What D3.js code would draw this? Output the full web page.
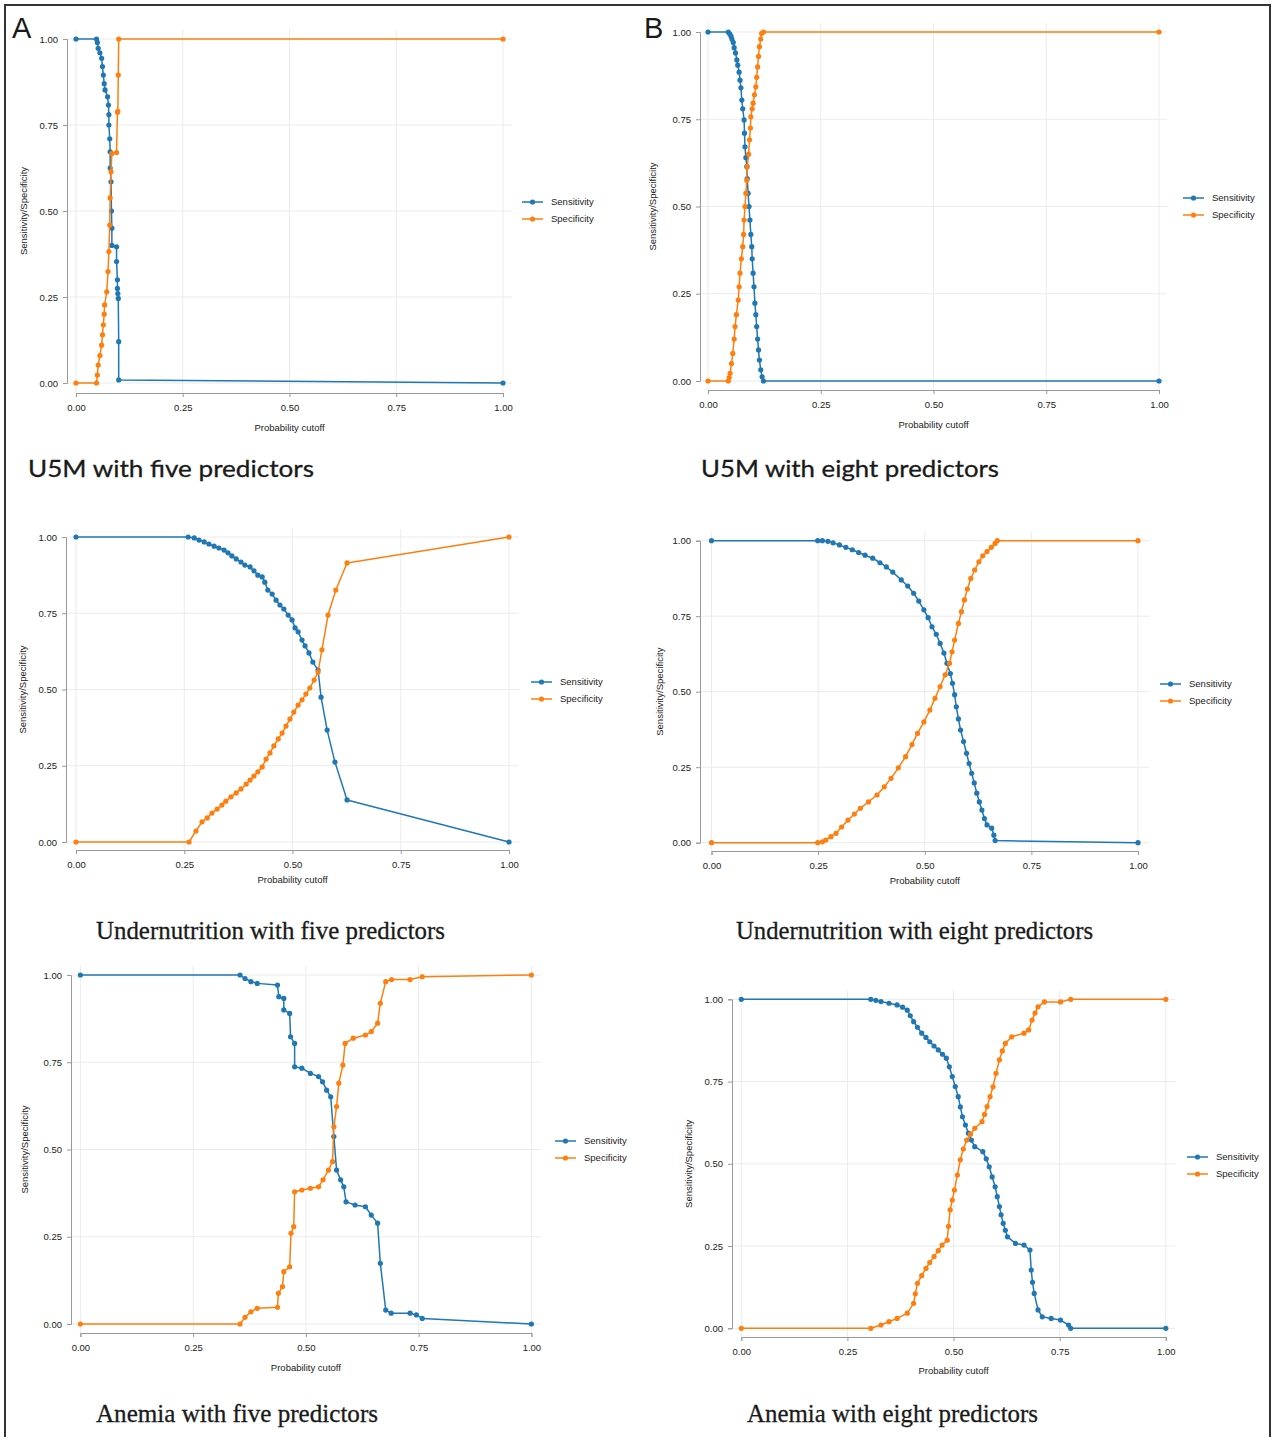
<!DOCTYPE html>
<html>
<head>
<meta charset="utf-8">
<script src="https://cdn.jsdelivr.net/npm/d3@7"></script>
<style>
  body { margin: 0; background: #fff; }
  .axis text { font-family: "Liberation Sans Narrow", "Liberation Sans", sans-serif; font-size: 9.5px; fill: #222; }
  .axis path, .axis line { stroke: #999; }
  .lab { font-family: "Liberation Sans Narrow", "Liberation Sans", sans-serif; font-size: 9.5px; fill: #222; }
</style>
</head>
<body>
<div id="graphic"></div>
<script>
// tick values shared by all six panels
const xTicks = [0, 0.25, 0.5, 0.75, 1];
const yTicks = [0, 0.25, 0.5, 0.75, 1];
const seriesNames = ['Sensitivity', 'Specificity'];
const seriesColours = ['#1f77b4', '#ff7f0e'];

// [probability cutoff, value]
const u5mFiveSens = [[0,1],[0.048,1],[0.05,0.99],[0.052,0.973],[0.056,0.96],[0.06,0.944],[0.062,0.92],[0.064,0.895],[0.066,0.87],[0.068,0.852],[0.074,0.832],[0.076,0.808],[0.077,0.78],[0.077,0.75],[0.079,0.71],[0.08,0.672],[0.08,0.625],[0.082,0.585],[0.083,0.5],[0.084,0.45],[0.084,0.4],[0.095,0.396],[0.095,0.353],[0.097,0.3],[0.097,0.275],[0.098,0.26],[0.099,0.246],[0.1,0.12],[0.1,0.009],[1,0]];
const u5mFiveSpec = [[0,0],[0.048,0],[0.05,0.023],[0.052,0.052],[0.056,0.08],[0.06,0.11],[0.062,0.14],[0.064,0.169],[0.066,0.2],[0.067,0.227],[0.072,0.265],[0.075,0.324],[0.077,0.382],[0.079,0.459],[0.08,0.538],[0.082,0.614],[0.084,0.667],[0.095,0.67],[0.097,0.787],[0.098,0.79],[0.099,0.895],[0.1,1],[1,1]];

const u5mEightSens = [[0,1],[0.045,1],[0.048,0.995],[0.051,0.988],[0.053,0.98],[0.056,0.97],[0.058,0.955],[0.061,0.94],[0.064,0.92],[0.066,0.905],[0.069,0.885],[0.071,0.862],[0.073,0.84],[0.075,0.805],[0.077,0.78],[0.08,0.748],[0.081,0.71],[0.082,0.671],[0.084,0.64],[0.086,0.614],[0.087,0.58],[0.089,0.538],[0.091,0.5],[0.093,0.461],[0.095,0.42],[0.097,0.385],[0.098,0.35],[0.1,0.309],[0.102,0.27],[0.104,0.223],[0.106,0.19],[0.108,0.156],[0.11,0.12],[0.112,0.089],[0.114,0.06],[0.117,0.032],[0.12,0.012],[0.123,0],[1,0]];
const u5mEightSpec = [[0,0],[0.045,0],[0.047,0.01],[0.049,0.022],[0.052,0.05],[0.055,0.079],[0.058,0.12],[0.06,0.156],[0.063,0.19],[0.067,0.232],[0.069,0.27],[0.071,0.309],[0.074,0.35],[0.077,0.385],[0.079,0.42],[0.08,0.461],[0.082,0.5],[0.084,0.538],[0.086,0.575],[0.087,0.614],[0.09,0.65],[0.092,0.691],[0.094,0.725],[0.095,0.757],[0.098,0.78],[0.1,0.796],[0.103,0.82],[0.106,0.843],[0.108,0.87],[0.11,0.9],[0.112,0.93],[0.114,0.958],[0.117,0.98],[0.119,0.996],[0.123,1],[1,1]];

const underFiveSens = [[0,1],[0.259,1],[0.273,0.997],[0.284,0.99],[0.296,0.984],[0.307,0.977],[0.319,0.97],[0.33,0.964],[0.342,0.957],[0.351,0.948],[0.36,0.938],[0.37,0.928],[0.381,0.918],[0.39,0.908],[0.402,0.902],[0.411,0.889],[0.42,0.875],[0.43,0.869],[0.436,0.852],[0.443,0.826],[0.453,0.813],[0.462,0.793],[0.471,0.777],[0.48,0.764],[0.49,0.744],[0.499,0.728],[0.506,0.702],[0.513,0.689],[0.522,0.662],[0.529,0.643],[0.538,0.62],[0.547,0.59],[0.559,0.564],[0.566,0.475],[0.58,0.367],[0.598,0.262],[0.626,0.138],[1,0]];
const underFiveSpec = [[0,0],[0.261,0],[0.277,0.036],[0.291,0.066],[0.303,0.079],[0.314,0.095],[0.326,0.108],[0.337,0.121],[0.346,0.134],[0.358,0.148],[0.37,0.161],[0.381,0.174],[0.393,0.19],[0.402,0.203],[0.411,0.216],[0.42,0.23],[0.43,0.246],[0.439,0.272],[0.448,0.292],[0.457,0.315],[0.467,0.338],[0.476,0.357],[0.485,0.38],[0.494,0.403],[0.503,0.426],[0.513,0.449],[0.522,0.466],[0.531,0.485],[0.54,0.505],[0.55,0.531],[0.559,0.557],[0.568,0.63],[0.582,0.744],[0.6,0.826],[0.626,0.915],[1,1]];

const underEightSens = [[0,1],[0.249,1],[0.26,1],[0.273,0.998],[0.285,0.993],[0.3,0.986],[0.315,0.978],[0.33,0.97],[0.345,0.961],[0.36,0.952],[0.378,0.942],[0.395,0.927],[0.41,0.913],[0.425,0.896],[0.445,0.87],[0.46,0.85],[0.474,0.826],[0.486,0.8],[0.498,0.771],[0.508,0.745],[0.517,0.715],[0.527,0.69],[0.536,0.66],[0.545,0.628],[0.552,0.594],[0.56,0.56],[0.565,0.528],[0.57,0.49],[0.574,0.45],[0.579,0.41],[0.584,0.373],[0.591,0.335],[0.598,0.296],[0.604,0.262],[0.61,0.23],[0.616,0.198],[0.622,0.164],[0.628,0.135],[0.634,0.108],[0.64,0.08],[0.646,0.059],[0.657,0.048],[0.662,0.025],[0.665,0.007],[1,0]];
const underEightSpec = [[0,0],[0.249,0],[0.26,0.003],[0.268,0.009],[0.28,0.02],[0.292,0.031],[0.305,0.052],[0.32,0.075],[0.335,0.095],[0.349,0.114],[0.368,0.135],[0.388,0.158],[0.405,0.185],[0.421,0.213],[0.438,0.248],[0.455,0.285],[0.47,0.325],[0.483,0.362],[0.498,0.4],[0.512,0.439],[0.524,0.478],[0.536,0.517],[0.548,0.556],[0.558,0.594],[0.564,0.632],[0.57,0.671],[0.579,0.726],[0.586,0.765],[0.593,0.804],[0.6,0.84],[0.608,0.875],[0.617,0.903],[0.627,0.93],[0.636,0.95],[0.646,0.964],[0.656,0.978],[0.665,0.991],[0.67,1],[1,1]];

const anemiaFiveSens = [[0,1],[0.354,1],[0.365,0.99],[0.378,0.981],[0.392,0.976],[0.437,0.971],[0.44,0.938],[0.451,0.933],[0.451,0.9],[0.464,0.89],[0.466,0.823],[0.475,0.804],[0.475,0.737],[0.491,0.733],[0.51,0.718],[0.528,0.709],[0.537,0.694],[0.546,0.67],[0.555,0.651],[0.562,0.537],[0.568,0.441],[0.577,0.413],[0.584,0.393],[0.589,0.35],[0.609,0.341],[0.632,0.336],[0.645,0.312],[0.659,0.289],[0.665,0.174],[0.677,0.04],[0.689,0.031],[0.731,0.031],[0.745,0.026],[0.758,0.016],[1,0]];
const anemiaFiveSpec = [[0,0],[0.354,0],[0.365,0.019],[0.378,0.035],[0.392,0.045],[0.437,0.048],[0.439,0.088],[0.448,0.107],[0.451,0.15],[0.464,0.164],[0.467,0.26],[0.473,0.279],[0.475,0.379],[0.491,0.384],[0.51,0.389],[0.528,0.393],[0.538,0.413],[0.55,0.441],[0.559,0.465],[0.562,0.565],[0.568,0.623],[0.573,0.69],[0.582,0.742],[0.587,0.804],[0.605,0.819],[0.632,0.828],[0.645,0.838],[0.659,0.862],[0.665,0.919],[0.677,0.981],[0.69,0.987],[0.731,0.987],[0.758,0.995],[1,1]];

const anemiaEightSens = [[0,1],[0.305,1],[0.317,0.997],[0.329,0.993],[0.348,0.988],[0.367,0.983],[0.38,0.976],[0.391,0.967],[0.398,0.95],[0.406,0.932],[0.415,0.915],[0.425,0.897],[0.435,0.884],[0.444,0.871],[0.454,0.858],[0.464,0.846],[0.474,0.833],[0.483,0.821],[0.49,0.795],[0.497,0.765],[0.504,0.735],[0.511,0.704],[0.516,0.673],[0.521,0.643],[0.528,0.618],[0.535,0.593],[0.542,0.572],[0.55,0.552],[0.569,0.537],[0.577,0.515],[0.584,0.491],[0.591,0.46],[0.598,0.43],[0.603,0.4],[0.608,0.37],[0.612,0.345],[0.617,0.319],[0.622,0.298],[0.627,0.278],[0.646,0.258],[0.666,0.253],[0.68,0.238],[0.683,0.177],[0.686,0.14],[0.69,0.106],[0.699,0.056],[0.709,0.035],[0.73,0.03],[0.752,0.025],[0.771,0.01],[0.776,0],[1,0]];
const anemiaEightSpec = [[0,0],[0.305,0],[0.329,0.01],[0.348,0.02],[0.367,0.03],[0.391,0.046],[0.406,0.076],[0.41,0.105],[0.415,0.137],[0.425,0.16],[0.435,0.182],[0.444,0.2],[0.454,0.218],[0.464,0.236],[0.473,0.253],[0.485,0.268],[0.488,0.31],[0.492,0.36],[0.497,0.39],[0.502,0.42],[0.509,0.466],[0.516,0.512],[0.523,0.545],[0.531,0.572],[0.54,0.59],[0.55,0.608],[0.567,0.628],[0.573,0.65],[0.579,0.674],[0.586,0.704],[0.593,0.734],[0.6,0.775],[0.608,0.816],[0.615,0.843],[0.622,0.866],[0.637,0.886],[0.666,0.897],[0.677,0.907],[0.685,0.937],[0.692,0.958],[0.699,0.977],[0.714,0.992],[0.752,0.992],[0.776,1],[1,1]];

// panel layout (pixel positions only)
const panels = [
	{ sens: u5mFiveSens, spec: u5mFiveSpec, xr: [76, 503], yr: [383, 39], axisX: 67, axisY: 393, xTitleY: 428, yTitleX: 24,
	  legend: [522, 202], title: { x: 28, y: 477, text: 'U5M with five predictors', serif: false, len: 286 }, letter: { x: 12, y: 38, text: 'A' } },
	{ sens: u5mEightSens, spec: u5mEightSpec, xr: [708, 1159], yr: [381, 32], axisX: 700, axisY: 390, xTitleY: 425, yTitleX: 653,
	  legend: [1183, 198], title: { x: 701, y: 477, text: 'U5M with eight predictors', serif: false, len: 298 }, letter: { x: 644, y: 38, text: 'B' } },
	{ sens: underFiveSens, spec: underFiveSpec, xr: [76, 509], yr: [842, 537], axisX: 66, axisY: 850, xTitleY: 880, yTitleX: 23,
	  legend: [531, 682], title: { x: 96, y: 939, text: 'Undernutrition with five predictors', serif: true, len: 349 } },
	{ sens: underEightSens, spec: underEightSpec, xr: [711.5, 1138], yr: [842.7, 540.7], axisX: 700, axisY: 851, xTitleY: 881, yTitleX: 660,
	  legend: [1160, 684], title: { x: 736, y: 939, text: 'Undernutrition with eight predictors', serif: true, len: 357 } },
	{ sens: anemiaFiveSens, spec: anemiaFiveSpec, xr: [80.4, 531.4], yr: [1324, 975], axisX: 71, axisY: 1333, xTitleY: 1368, yTitleX: 25,
	  legend: [555, 1141], title: { x: 96, y: 1422, text: 'Anemia with five predictors', serif: true, len: 282 } },
	{ sens: anemiaEightSens, spec: anemiaEightSpec, xr: [741.3, 1165.8], yr: [1328.3, 999.3], axisX: 732, axisY: 1337, xTitleY: 1371, yTitleX: 689,
	  legend: [1187, 1157], title: { x: 747, y: 1422, text: 'Anemia with eight predictors', serif: true, len: 291 } }
];

const svg = d3.select('#graphic').append('svg')
	.attr('width', 1275)
	.attr('height', 1437);

svg.append('rect').attr('width', 1275).attr('height', 1437).attr('fill', '#fff');

// outer frame of the figure
svg.append('path')
	.attr('d', 'M5,1445 V5 H1270 V1445')
	.attr('fill', 'none')
	.attr('stroke', '#333')
	.attr('stroke-width', 2);

const fmt = d3.format('.2f');

function drawPanel(p) {
	const g = svg.append('g');
	const x = d3.scaleLinear().domain([0, 1]).range(p.xr);
	const y = d3.scaleLinear().domain([0, 1]).range(p.yr);
	const padX = x(0) - p.axisX;
	const padY = p.axisY - y(0);

	// grid lines
	g.append('g').selectAll('line').data(xTicks).join('line')
		.attr('x1', (d) => x(d)).attr('x2', (d) => x(d))
		.attr('y1', y(1) - padY).attr('y2', p.axisY)
		.attr('stroke', '#ebebeb').attr('stroke-width', 1);
	g.append('g').selectAll('line').data(yTicks).join('line')
		.attr('y1', (d) => y(d)).attr('y2', (d) => y(d))
		.attr('x1', p.axisX).attr('x2', x(1) + padX)
		.attr('stroke', '#ebebeb').attr('stroke-width', 1);

	// axes
	g.append('g').attr('class', 'axis')
		.attr('transform', `translate(${p.axisX},0)`)
		.call(d3.axisLeft(y).tickValues(yTicks).tickFormat(fmt).tickSize(4).tickPadding(5));
	g.append('g').attr('class', 'axis')
		.attr('transform', `translate(0,${p.axisY})`)
		.call(d3.axisBottom(x).tickValues(xTicks).tickFormat(fmt).tickSize(4).tickPadding(7));

	g.append('text').attr('class', 'lab')
		.attr('x', (x(0) + x(1)) / 2).attr('y', p.xTitleY)
		.attr('text-anchor', 'middle').attr('dy', '0.35em')
		.text('Probability cutoff');
	g.append('text').attr('class', 'lab')
		.attr('transform', `translate(${p.yTitleX},${(y(0) + y(1)) / 2}) rotate(-90)`)
		.attr('text-anchor', 'middle').attr('dy', '0.35em')
		.text('Sensitivity/Specificity');

	// the two curves
	const line = d3.line().x((d) => x(d[0])).y((d) => y(d[1]));
	[p.sens, p.spec].forEach((data, i) => {
		g.append('path').datum(data)
			.attr('fill', 'none')
			.attr('stroke', seriesColours[i])
			.attr('stroke-width', 1.5)
			.attr('stroke-linejoin', 'round')
			.attr('d', line);
		g.append('g').selectAll('circle').data(data).join('circle')
			.attr('cx', (d) => x(d[0]))
			.attr('cy', (d) => y(d[1]))
			.attr('r', 2.6)
			.attr('fill', seriesColours[i]);
	});

	// legend
	seriesNames.forEach((name, i) => {
		const ly = p.legend[1] + i * 17;
		g.append('line')
			.attr('x1', p.legend[0]).attr('x2', p.legend[0] + 21)
			.attr('y1', ly).attr('y2', ly)
			.attr('stroke', seriesColours[i]).attr('stroke-width', 1.5);
		g.append('circle')
			.attr('cx', p.legend[0] + 10.5).attr('cy', ly).attr('r', 2.6)
			.attr('fill', seriesColours[i]);
		g.append('text').attr('class', 'lab')
			.attr('x', p.legend[0] + 29).attr('y', ly).attr('dy', '0.35em')
			.text(name);
	});

	// panel caption
	g.append('text')
		.attr('x', p.title.x).attr('y', p.title.y)
		.attr('font-family', p.title.serif ? '"Liberation Serif", serif' : 'Lato, "Open Sans", sans-serif')
		.attr('font-size', p.title.serif ? 25 : 23)
		.attr('fill', '#1a1a1a')
		.attr('stroke', '#1a1a1a')
		.attr('stroke-width', 0.3)
		.attr('textLength', p.title.len)
		.attr('lengthAdjust', 'spacingAndGlyphs')
		.text(p.title.text);

	if (p.letter) {
		g.append('text')
			.attr('x', p.letter.x).attr('y', p.letter.y)
			.attr('font-family', '"Liberation Sans Narrow", "Liberation Sans", sans-serif')
			.attr('font-size', 29)
			.attr('fill', '#1a1a1a')
			.text(p.letter.text);
	}
}

panels.forEach(drawPanel);
</script>
</body>
</html>
